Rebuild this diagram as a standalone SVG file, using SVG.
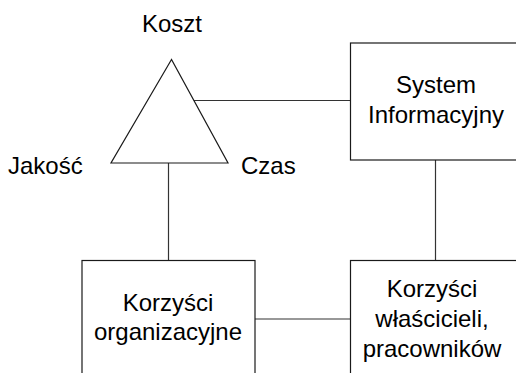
<svg xmlns="http://www.w3.org/2000/svg" width="516" height="373" viewBox="0 0 516 373">
  <style>
    .shape { fill: #fff; stroke: #1a1a1a; stroke-width: 1.2; }
    .link { fill: none; stroke: #333; stroke-width: 1.2; }
    text { font-family: "Liberation Sans", Arial, sans-serif; font-size: 24px; fill: #000; }
    .c { text-anchor: middle; }
  </style>
  <rect width="516" height="373" fill="#fff"/>
  <g id="connectors">
    <line class="link" x1="194" y1="100.5" x2="350.5" y2="100.5"/>
    <line class="link" x1="168.5" y1="163" x2="168.5" y2="261"/>
    <line class="link" x1="435.5" y1="160" x2="435.5" y2="260"/>
    <line class="link" x1="255" y1="319" x2="350.5" y2="319"/>
  </g>
  <g id="triangle">
    <polygon class="shape" points="171.5,59.5 111,163 228,163"/>
    <text class="c" x="172" y="32">Koszt</text>
    <text x="8" y="174">Jakość</text>
    <text x="241" y="174">Czas</text>
  </g>
  <g id="system">
    <rect class="shape" x="350.5" y="43" width="172" height="117"/>
    <text class="c" x="436" y="93">System</text>
    <text class="c" x="436" y="123">Informacyjny</text>
  </g>
  <g id="org">
    <rect class="shape" x="82" y="260.5" width="173" height="130"/>
    <text class="c" x="168" y="311">Korzyści</text>
    <text class="c" x="168" y="340">organizacyjne</text>
  </g>
  <g id="owners">
    <rect class="shape" x="350.5" y="260.5" width="172" height="130"/>
    <text class="c" x="432" y="297">Korzyści</text>
    <text class="c" x="432" y="327">właścicieli,</text>
    <text class="c" x="432" y="357">pracowników</text>
  </g>
</svg>
